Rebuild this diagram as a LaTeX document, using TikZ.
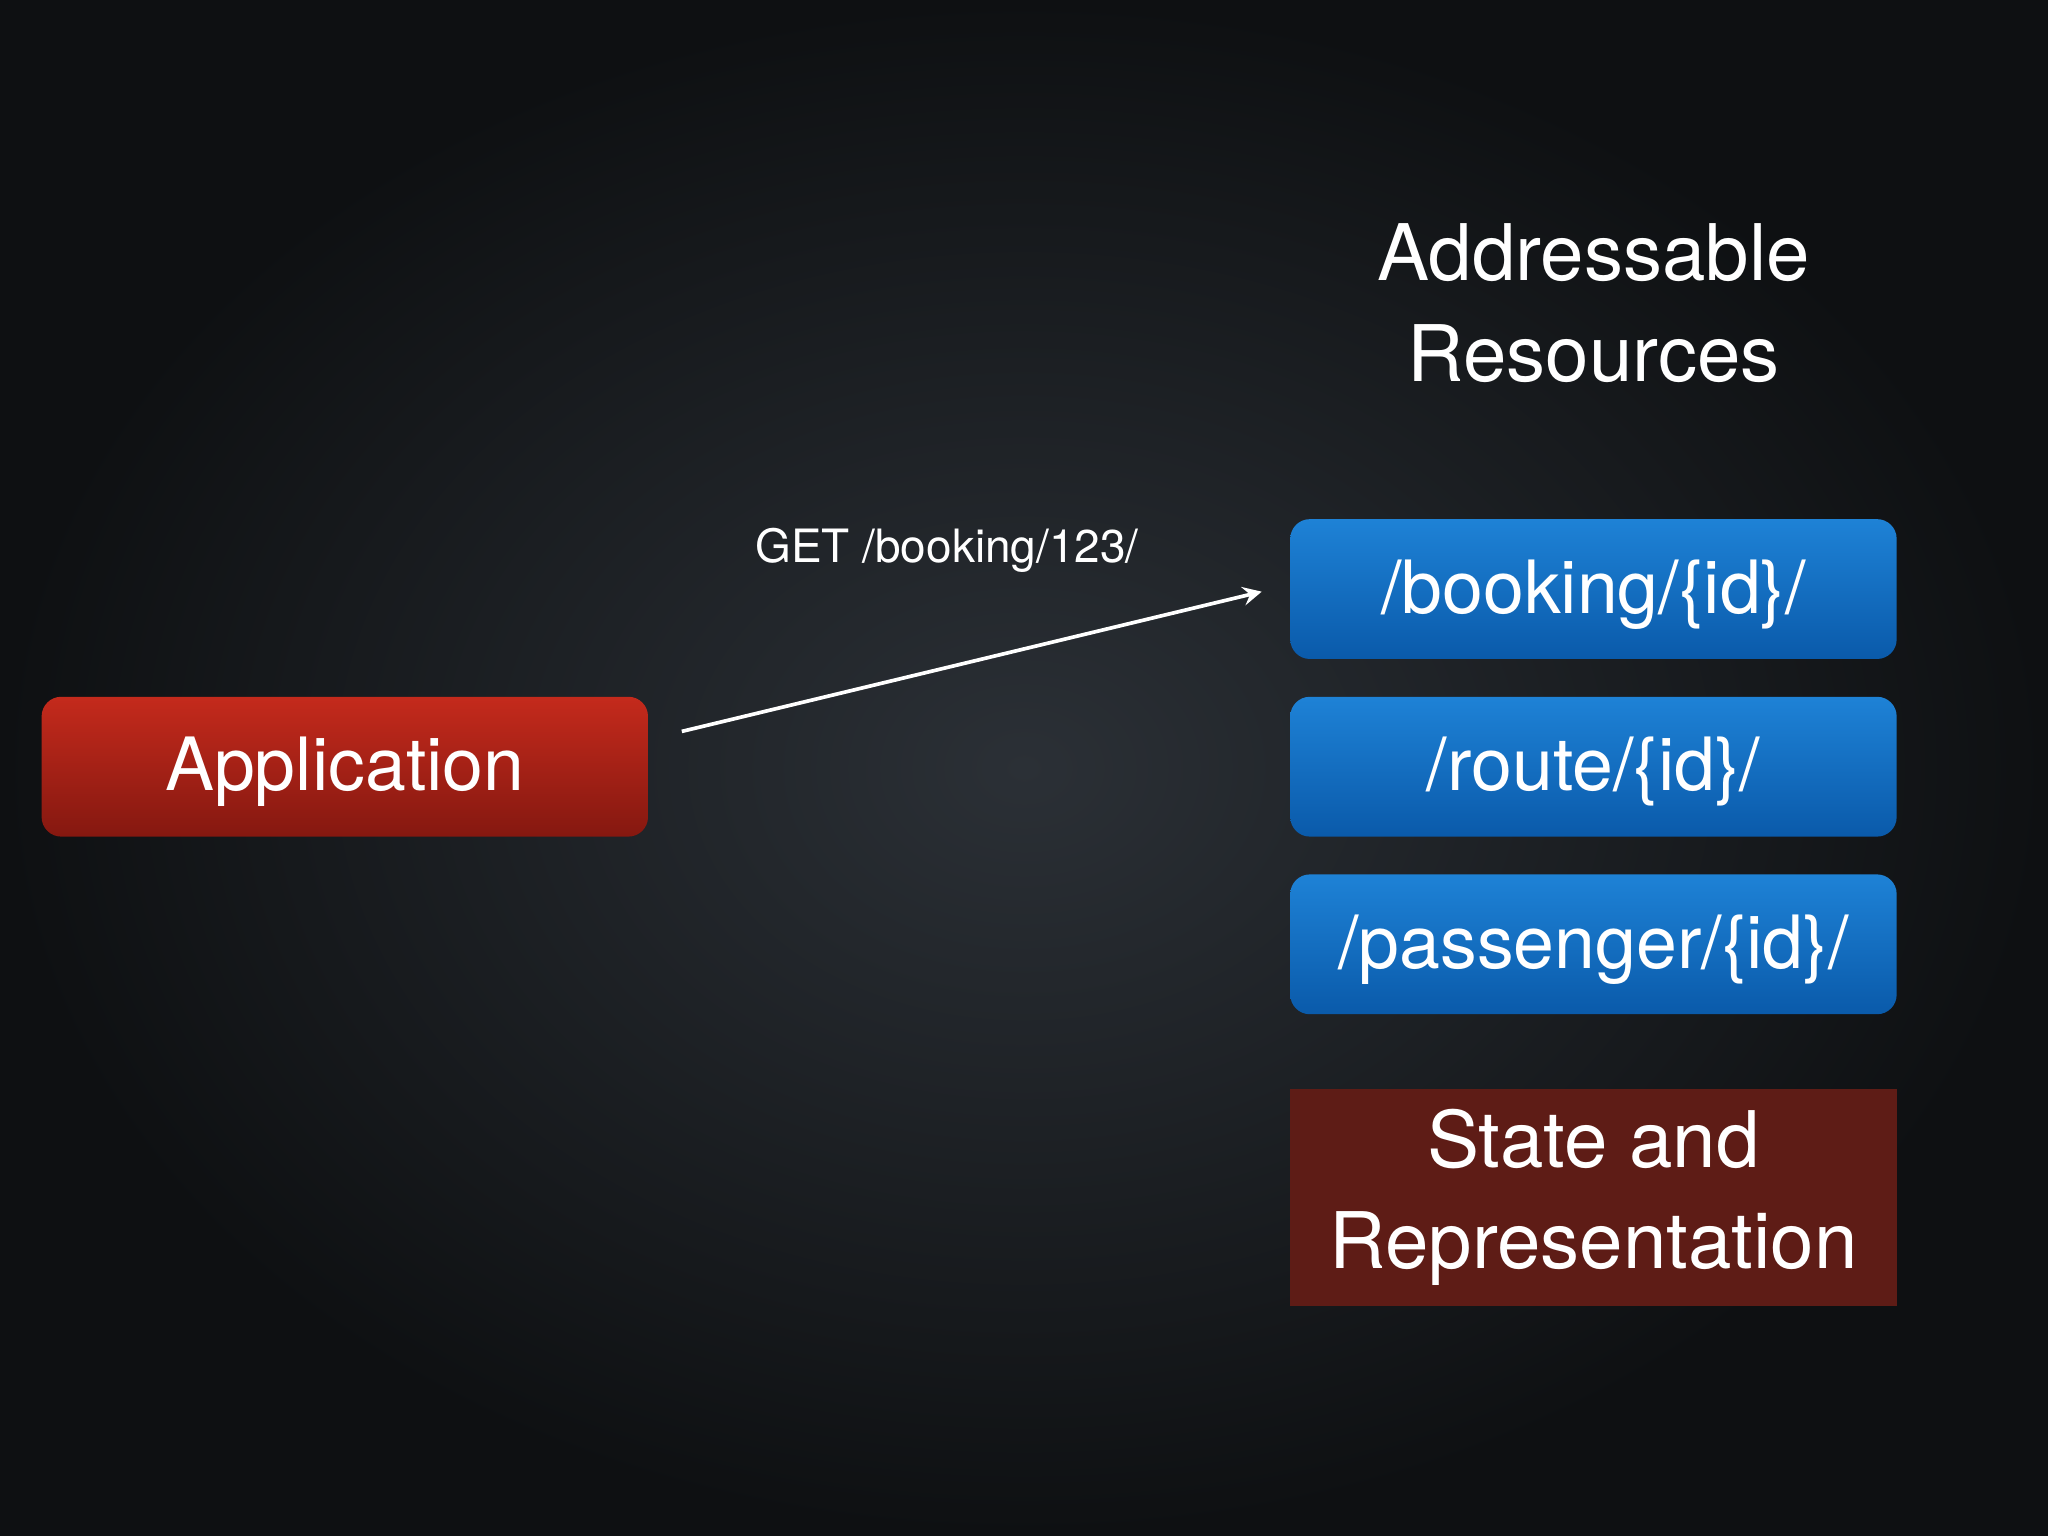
\documentclass[tikz,border=0pt]{standalone}
\usepackage{fontspec}
\setmainfont{TeX Gyre Heros}
\begin{document}
\begin{tikzpicture}[x=0.01cm,y=-0.01cm,
  box/.style={rounded corners=0.15cm,minimum width=4.64cm,minimum height=1.07cm,text=white,inner sep=0pt,font=\fontsize{16}{20}\selectfont,text depth=0.04cm},
  lbl/.style={text=white,align=center}]
\definecolor{bgc}{HTML}{2B3036}\definecolor{bge}{HTML}{0E1012}
\definecolor{bt}{HTML}{1E82D6}\definecolor{bb}{HTML}{0A5AAA}
\definecolor{rt}{HTML}{C42A1C}\definecolor{rb}{HTML}{851810}
\definecolor{st}{HTML}{5E1C16}
\useasboundingbox (0,0) rectangle (1568,1176);
\shade[inner color=bgc,outer color=bge] (0,0) rectangle (1568,1176);
\node[box,top color=rt,bottom color=rb] (app) at (264,587) {Application};
\node[box,top color=bt,bottom color=bb] (b1) at (1220,451) {/booking/\{id\}/};
\node[box,top color=bt,bottom color=bb] (b2) at (1220,587) {/route/\{id\}/};
\node[box,top color=bt,bottom color=bb] (b3) at (1220,723) {/passenger/\{id\}/};
\node[fill=st,minimum width=4.65cm,minimum height=1.66cm,inner sep=0pt,lbl,font=\fontsize{17}{22}\selectfont] (st) at (1220,917) {State and\\Representation};
\node[lbl,font=\fontsize{17}{22}\selectfont] (title) at (1220,232) {Addressable\\Resources};
\coordinate (s) at (522,560);
\coordinate (e) at (966,453);
\draw[white,line width=0.8pt,-stealth] (s) -- (e);
\node[text=white,font=\fontsize{10}{12}\selectfont] (get) at (725,421) {GET /booking/123/};
\end{tikzpicture}
\end{document}
